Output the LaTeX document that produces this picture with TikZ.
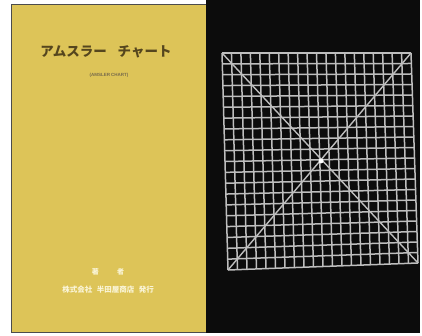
\documentclass[tikz,border=0pt]{standalone}
\usepackage{fontspec}
\setmainfont{Liberation Sans}
\newfontfamily\jpfont{Noto Sans CJK JP}
\usetikzlibrary{calc}
\definecolor{coveryellow}{RGB}{221,196,88}
\definecolor{titlebrown}{RGB}{85,70,30}
\definecolor{goldtext}{RGB}{250,245,215}
\definecolor{darkbg}{RGB}{12,12,12}
\definecolor{gridgray}{RGB}{190,190,190}
\tikzset{
  gridline/.style={draw=gridgray, line width=1.5pt},
  diagline/.style={draw=gridgray, line width=1.4pt},
  jptext/.style={font=\jpfont, inner sep=0pt},
}
\begin{document}
\begin{tikzpicture}[x=1pt,y=-1pt]
\useasboundingbox (0,0) rectangle (422,336);
\fill[white] (0,0) rectangle (422,336);
% yellow cover
\fill[coveryellow] (11,4) rectangle (206,332);
\draw[black!70, line width=0.8pt] (11,332) -- (11,4) -- (206,4);
\draw[black!70, line width=0.8pt] (11,332) -- (206,332);
% black panel
\fill[darkbg] (206,0) rectangle (420,333);
% texts
\node[jptext, text=titlebrown, font=\jpfont\bfseries\fontsize{13.5}{14}\selectfont] (title) at (106,52) {アムスラー\hspace{0.8em}チャート};
\node[jptext, text=titlebrown!80, font=\bfseries\fontsize{4.5}{5}\selectfont] (sub) at (109,75) {(AMSLER CHART)};
\node[jptext, text=goldtext, font=\jpfont\bfseries\fontsize{7}{8}\selectfont] (author) at (108,272) {著\hspace{2.6em}者};
\node[jptext, text=goldtext, font=\jpfont\bfseries\fontsize{7.5}{8}\selectfont] (pub) at (108,290) {株式会社\hspace{0.6em}半田屋商店\hspace{0.6em}発行};
% Amsler grid
\coordinate (tl) at (222,53);
\coordinate (tr) at (411,53);
\coordinate (bl) at (228,270);
\coordinate (br) at (418,263);
\foreach \i in {0,...,20}{
  \draw[gridline] ($(tl)!\i/20!(tr)$) -- ($(bl)!\i/20!(br)$);
  \draw[gridline] ($(tl)!\i/20!(bl)$) -- ($(tr)!\i/20!(br)$);
}
\draw[diagline] (tl) -- (br);
\draw[diagline] (tr) -- (bl);
\coordinate (c) at (321,161);
\fill[white] (c) circle (2.4pt);
\end{tikzpicture}
\end{document}
